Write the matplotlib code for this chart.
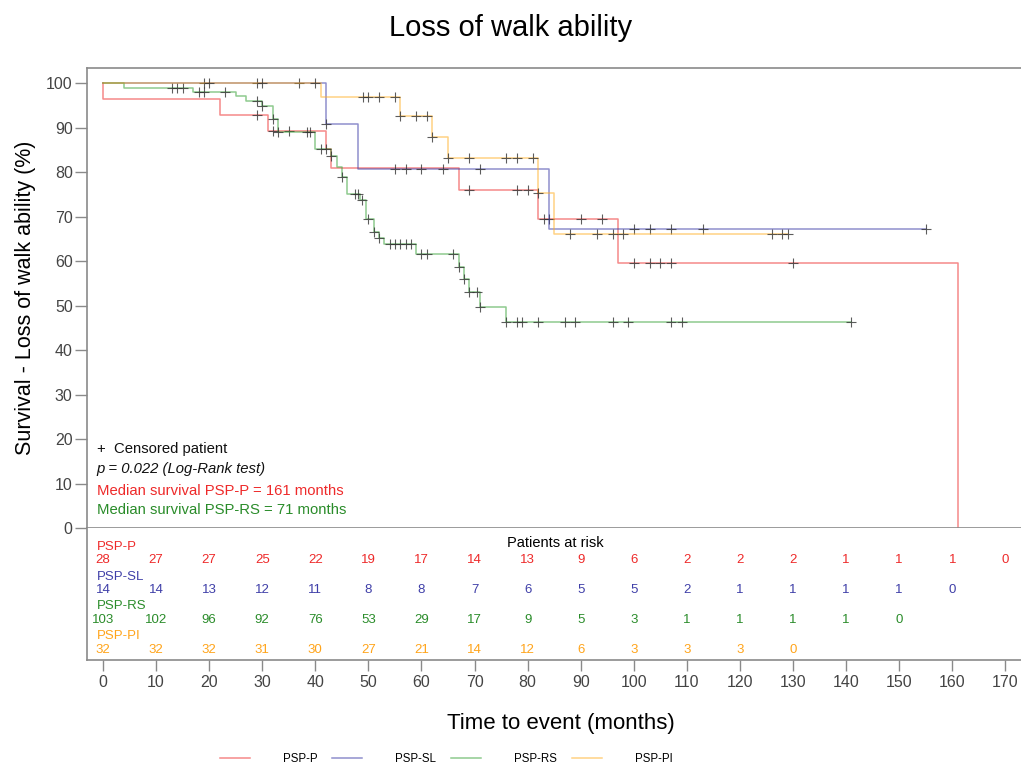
import numpy as np
import matplotlib
matplotlib.use('Agg')
import matplotlib.pyplot as plt
from matplotlib.lines import Line2D

plt.rcParams['font.family'] = ['Liberation Sans', 'DejaVu Sans']

# step data: event times and survival (%) after each event, censor times, end of follow-up
p_times = [0, 22, 31, 42, 43, 67, 82, 97, 161]
p_surv = [96.4, 92.9, 89.3, 85.1, 80.9, 75.9, 69.4, 59.5, 0]
p_cens = [29, 32, 35, 69, 78, 80, 83, 84, 90, 94, 100, 103, 105, 107, 130]
p_end = 161

sl_times = [42, 48, 84]
sl_surv = [90.9, 80.8, 67.3]
sl_cens = [19, 29, 37, 42, 55, 57, 60, 64, 71, 100, 103, 107, 113, 155]
sl_end = 155

rs_times = [4, 17, 25, 27, 30, 32, 33, 40, 43, 44, 45, 46, 48.5, 49.5, 51, 52, 53,
            59, 67, 68, 69, 71, 76]
rs_surv = [99.0, 98.0, 97.0, 96.0, 94.9, 92.0, 89.1, 85.2, 83.6, 81.2, 78.9, 75.1,
           73.7, 69.4, 66.5, 65.2, 63.8, 61.6, 58.7, 56.0, 53.0, 49.7, 46.3]
rs_cens = [13, 14, 15, 18, 19, 23, 29, 30, 32, 33, 38.5, 39, 41, 42, 43, 45, 47.5, 48,
           48.8, 50, 51, 52, 54, 55, 56, 57, 58, 60, 61, 66, 67, 68, 69, 70.5, 71,
           76, 78, 79, 82, 87, 89, 96, 99, 107, 109, 141]
rs_end = 141

pi_times = [41, 56, 62, 65, 82, 85]
pi_surv = [96.9, 92.6, 87.9, 83.1, 75.4, 66.1]
pi_cens = [20, 30, 40, 49, 50, 52, 55, 56, 59, 61, 62, 65, 69, 76, 78, 81, 82,
           88, 93, 96, 98, 126, 128, 129]
pi_end = 129

risk_times = list(range(0, 180, 10))
p_risk = [28, 27, 27, 25, 22, 19, 17, 14, 13, 9, 6, 2, 2, 2, 1, 1, 1, 0]
sl_risk = [14, 14, 13, 12, 11, 8, 8, 7, 6, 5, 5, 2, 1, 1, 1, 1, 0]
rs_risk = [103, 102, 96, 92, 76, 53, 29, 17, 9, 5, 3, 1, 1, 1, 1, 0]
pi_risk = [32, 32, 32, 31, 30, 27, 21, 14, 12, 6, 3, 3, 3, 0]

groups = ['PSP-P', 'PSP-SL', 'PSP-RS', 'PSP-PI']
line_colors = ['#ee2a2a', '#3535a5', '#33a033', '#ffad1f']
text_colors = ['#ee2a2a', '#3f3fa8', '#2a8c2a', '#ffa41a']

series = [
    (p_times, p_surv, p_cens, p_end, p_risk),
    (sl_times, sl_surv, sl_cens, sl_end, sl_risk),
    (rs_times, rs_surv, rs_cens, rs_end, rs_risk),
    (pi_times, pi_surv, pi_cens, pi_end, pi_risk),
]

frame = '#8a8a8a'
fig = plt.figure(figsize=(10.21, 7.69), dpi=100)
ax = fig.add_axes([0.0848, 0.3134, 0.93, 0.5982])
ax2 = fig.add_axes([0.0848, 0.1417, 0.93, 0.1717], sharex=ax)

for (t, s, c, end, risk), col in zip(series, line_colors):
    x = [0] + t + [end]
    y = [100] + s + [s[-1]]
    ax.step(x, y, where='post', color=col, lw=1.1, alpha=0.55)
    c = np.array(c)
    idx = np.searchsorted(np.array(t), c, side='right')
    vals = np.array([100] + s)[idx]
    ax.plot(c, vals, ls='none', marker='+', ms=7, mew=0.8, color='#333333', alpha=0.8)

ax.set_xlim(-3.09, 175.8)
ax.set_ylim(0, 103.4)
ax.set_yticks(range(0, 101, 10))
ax.tick_params(axis='y', length=9, width=1, color=frame, labelsize=11.5,
               labelcolor='#444444', pad=1)
ax.tick_params(axis='x', bottom=False, labelbottom=False)
for side in ['top', 'left', 'bottom']:
    ax.spines[side].set_color(frame)
    ax.spines[side].set_linewidth(1.2)
ax.spines['right'].set_visible(False)
ax.set_ylabel('Survival - Loss of walk ability (%)', fontsize=15.5, labelpad=7)

ax.text(-1.2, 16.9, '+  Censored patient', fontsize=10.7, color='#111111')
ax.text(-1.2, 12.4, 'p = 0.022 (Log-Rank test)', fontsize=10.7, style='italic', color='#111111')
ax.text(-1.2, 7.5, 'Median survival PSP-P = 161 months', fontsize=10.7, color=text_colors[0])
ax.text(-1.2, 3.2, 'Median survival PSP-RS = 71 months', fontsize=10.7, color=text_colors[2])

# risk table
ax2.set_ylim(0, 1)
ax2.set_yticks([])
for side in ['left', 'bottom']:
    ax2.spines[side].set_color(frame)
    ax2.spines[side].set_linewidth(1.2)
ax2.spines['top'].set_visible(False)
ax2.spines['right'].set_visible(False)
ax2.set_xticks(risk_times)
ax2.tick_params(axis='x', length=8, width=1, color=frame, labelsize=11.5,
                labelcolor='#444444', pad=3)
tr = ax2.get_xaxis_transform()
ax2.text(85.2, 0.89, 'Patients at risk', fontsize=10.5, ha='center', va='center', transform=tr)
label_y = [0.856, 0.629, 0.41, 0.182]
num_y = [0.758, 0.53, 0.303, 0.076]
for i, (t, s, c, end, risk) in enumerate(series):
    ax2.text(-1.2, label_y[i], groups[i], fontsize=9.5, color=text_colors[i],
             ha='left', va='center', transform=tr)
    for xt, n in zip(risk_times, risk):
        ax2.text(xt, num_y[i], str(n), fontsize=9.5, color=text_colors[i],
                 ha='center', va='center', transform=tr)

ax2.set_xlabel('Time to event (months)', fontsize=16, labelpad=16)

fig.suptitle('Loss of walk ability', fontsize=21, y=0.982)

handles = [Line2D([], [], color=c, lw=1.1, alpha=0.55) for c in line_colors]
fig.legend(handles, groups, loc='center', bbox_to_anchor=(0.437, 0.013), ncol=4,
           frameon=False, fontsize=8.3, handlelength=2.6, handletextpad=2.85,
           columnspacing=1.3)

fig.savefig('out.png', dpi=100)
